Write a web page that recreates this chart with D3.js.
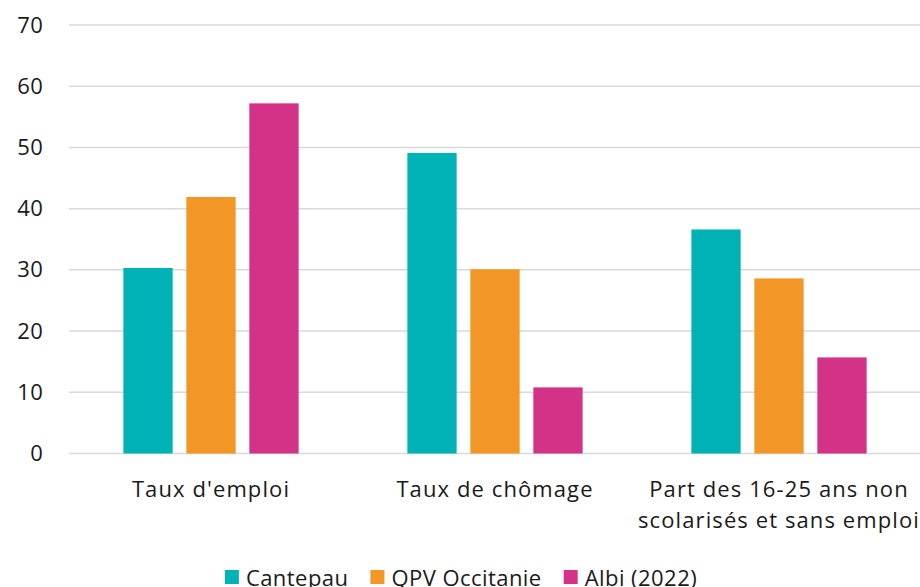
<!DOCTYPE html>
<html>
<head>
<meta charset="utf-8">
<script src="https://cdn.jsdelivr.net/npm/d3@7"></script>
<style>
  html, body { margin: 0; padding: 0; background: #fff; }
  svg { display: block; font-family: "Open Sans", sans-serif; }
</style>
</head>
<body>
<svg id="chart" width="920" height="587"></svg>
<script>
const categories = [["Taux d'emploi"], ["Taux de chômage"], ["Part des 16-25 ans non", "scolarisés et sans emploi"]];
const categoryKeys = ["emploi", "chomage", "jeunes"];
const seriesNames = ["Cantepau", "QPV Occitanie", "Albi (2022)"];
const cantepau = [30.3, 49.1, 36.6];
const qpvOccitanie = [41.9, 30.1, 28.6];
const albi = [57.2, 10.8, 15.7];
const yTicks = [0, 10, 20, 30, 40, 50, 60, 70];
const colors = ["#00B2B5", "#F29626", "#D43287"];

const seriesValues = [cantepau, qpvOccitanie, albi];
const svg = d3.select("#chart");
const fontSize = 22;
const spacing = 1.1;

const x0 = d3.scaleBand().domain(categoryKeys).range([69, 921]).padding(0);
const x1 = d3.scaleBand().domain(seriesNames).range([0, x0.bandwidth()])
  .paddingInner(0.2175).paddingOuter(0.863);
const y = d3.scaleLinear().domain([0, 70]).range([453.5, 25]);

// gridlines
svg.append("g").selectAll("line").data(yTicks).join("line")
  .attr("x1", 69).attr("x2", 920)
  .attr("y1", d => y(d)).attr("y2", d => y(d))
  .attr("stroke", "#d9d9d9").attr("stroke-width", 1.5);

// y axis labels
const yAxis = d3.axisLeft(y).tickValues(yTicks).tickSize(0).tickPadding(0);
const gy = svg.append("g").attr("transform", "translate(43.5,0)").call(yAxis);
gy.select(".domain").remove();
gy.selectAll("text").attr("font-size", fontSize).attr("fill", "#1a1a1a")
  .attr("font-family", "Open Sans, sans-serif").attr("letter-spacing", 0.6);

// bars
const groups = svg.append("g").selectAll("g").data(categoryKeys).join("g")
  .attr("transform", d => `translate(${x0(d)},0)`);
groups.selectAll("rect")
  .data((d, i) => seriesNames.map((s, j) => ({ s, j, v: seriesValues[j][i] })))
  .join("rect")
  .attr("x", d => x1(d.s))
  .attr("width", x1.bandwidth())
  .attr("y", d => y(d.v))
  .attr("height", d => y(0) - y(d.v))
  .attr("fill", d => colors[d.j]);

// category labels
const xl = svg.append("g");
categoryKeys.forEach((k, i) => {
  const cxp = x0(k) + x0.bandwidth() / 2;
  const t = xl.append("text")
    .attr("x", cxp)
    .attr("y", 497)
    .attr("text-anchor", "middle")
    .attr("font-size", fontSize)
    .attr("letter-spacing", spacing)
    .attr("fill", "#1a1a1a");
  categories[i].forEach((line, li) => {
    t.append("tspan").attr("x", cxp)
      .attr("dy", li === 0 ? 0 : 30.5).text(line);
  });
});

// legend
const legend = svg.append("g");
let cx = 0;
seriesNames.forEach((s, j) => {
  const g = legend.append("g").attr("transform", `translate(${cx},0)`);
  g.append("rect").attr("x", 0).attr("y", 570).attr("width", 14).attr("height", 14).attr("fill", colors[j]);
  const t = g.append("text").attr("x", 21).attr("y", 585.5).attr("font-size", fontSize)
    .attr("letter-spacing", 0.45)
    .attr("fill", "#1a1a1a").text(s);
  const w = 21 + t.node().getComputedTextLength();
  cx += w + 22;
});
const totalW = cx - 22;
legend.attr("transform", `translate(${461 - totalW / 2},0)`);
</script>
</body>
</html>
